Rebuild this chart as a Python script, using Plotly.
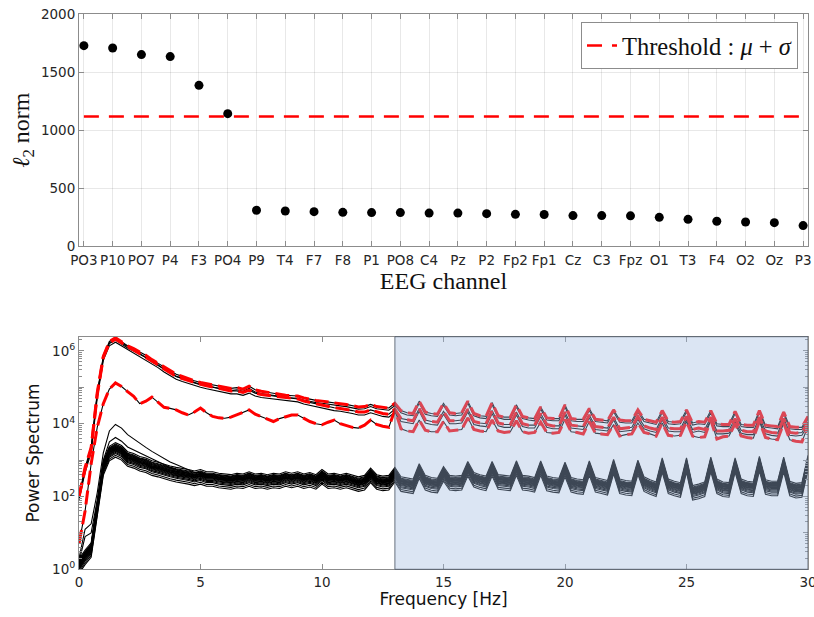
import numpy as np
import plotly.graph_objects as go

# ---------------- channel ranking (top panel) ----------------
channels = ["PO3", "P10", "PO7", "P4", "F3", "PO4", "P9", "T4", "F7", "F8", "P1",
            "PO8", "C4", "Pz", "P2", "Fp2", "Fp1", "Cz", "C3", "Fpz", "O1", "T3",
            "F4", "O2", "Oz", "P3"]
l2_norm = [1727, 1707, 1650, 1633, 1385, 1141, 308, 302, 296, 290, 288,
           288, 284, 284, 279, 273, 272, 262, 262, 260, 247, 230,
           213, 207, 201, 176]

# ---------------- power spectra (bottom panel), log10 power at 0.25 Hz steps ----------------
freq_step = 0.25
beta_band = (13, 30)

# upper edge of the high-power (flagged) group
top_hi_log = [
    2.00, 2.80, 3.35, 4.85,  5.85, 6.26, 6.36, 6.25,  6.14, 6.06, 5.97, 5.88,
    5.76, 5.66, 5.54, 5.44,  5.36, 5.30, 5.23, 5.18,  5.13, 5.10, 5.06, 5.02,
    4.99, 4.97, 4.99, 4.95,  5.03, 4.93, 4.89, 4.87,  4.85, 4.81, 4.78, 4.77,
    4.76, 4.71, 4.67, 4.64,  4.62, 4.59, 4.56, 4.55,  4.53, 4.49, 4.46, 4.47,
    4.53, 4.47, 4.44, 4.43,  4.56, 4.36, 4.30, 4.28,  4.62, 4.32, 4.28, 4.26,
    4.56, 4.30, 4.28, 4.30,  4.62, 4.28, 4.22, 4.20,  4.58, 4.22, 4.18, 4.18,
    4.52, 4.20, 4.16, 4.14,  4.46, 4.16, 4.14, 4.14,  4.52, 4.14, 4.12, 4.12,
    4.42, 4.12, 4.10, 4.08,  4.38, 4.10, 4.08, 4.08,  4.38, 4.12, 4.08, 4.04,
    4.36, 4.06, 4.04, 4.06,  4.38, 4.02, 4.06, 4.04,  4.36, 4.00, 3.98, 3.98,
    4.34, 3.98, 3.96, 3.96,  4.36, 3.96, 3.94, 3.92,  4.32, 3.92, 3.90, 3.90,
    4.20,
]
# lower edge of the high-power group
top_lo_log = [
    1.95, 2.70, 3.25, 4.75,  5.78, 6.18, 6.28, 6.18,  6.08, 5.98, 5.88, 5.80,
    5.68, 5.58, 5.46, 5.36,  5.26, 5.20, 5.14, 5.08,  5.04, 5.00, 4.96, 4.92,
    4.88, 4.86, 4.86, 4.82,  4.88, 4.80, 4.76, 4.74,  4.72, 4.68, 4.66, 4.64,
    4.64, 4.58, 4.54, 4.50,  4.46, 4.42, 4.40, 4.38,  4.36, 4.32, 4.28, 4.28,
    4.34, 4.28, 4.24, 4.22,  4.36, 4.10, 4.06, 4.04,  4.38, 4.06, 4.02, 4.00,
    4.30, 4.04, 4.04, 4.06,  4.36, 4.02, 3.98, 3.96,  4.32, 3.98, 3.94, 3.94,
    4.28, 3.96, 3.92, 3.92,  4.24, 3.94, 3.90, 3.90,  4.28, 3.92, 3.90, 3.88,
    4.20, 3.88, 3.86, 3.84,  4.14, 3.82, 3.84, 3.86,  4.16, 3.90, 3.84, 3.80,
    4.14, 3.84, 3.82, 3.82,  4.16, 3.80, 3.84, 3.80,  4.14, 3.76, 3.76, 3.78,
    4.10, 3.78, 3.74, 3.74,  4.14, 3.76, 3.72, 3.70,  4.10, 3.72, 3.70, 3.72,
    4.00,
]
# flagged channel with a lower alpha peak
mid_log = [
    0.70, 1.60, 2.90, 3.90,  4.55, 4.95, 5.12, 5.02,  4.88, 4.75, 4.55, 4.62,
    4.73, 4.58, 4.45, 4.42,  4.38, 4.30, 4.24, 4.32,  4.43, 4.30, 4.20, 4.16,
    4.15, 4.18, 4.24, 4.30,  4.38, 4.26, 4.20, 4.12,  4.06, 4.14, 4.20, 4.24,
    4.24, 4.14, 4.06, 4.00,  3.97, 4.04, 4.10, 4.00,  3.94, 3.90, 3.88, 3.96,
    4.10, 3.98, 3.93, 3.90,  4.38, 3.86, 3.80, 3.78,  4.10, 3.82, 3.78, 3.78,
    4.06, 3.80, 3.82, 3.84,  4.16, 3.84, 3.80, 3.78,  4.10, 3.80, 3.76, 3.78,
    4.08, 3.78, 3.74, 3.76,  4.04, 3.76, 3.74, 3.76,  4.12, 3.78, 3.76, 3.72,
    4.06, 3.74, 3.72, 3.70,  3.98, 3.66, 3.70, 3.72,  4.02, 3.76, 3.72, 3.66,
    4.02, 3.68, 3.66, 3.68,  4.06, 3.66, 3.62, 3.64,  4.10, 3.58, 3.64, 3.66,
    4.00, 3.66, 3.62, 3.60,  4.06, 3.62, 3.58, 3.56,  4.02, 3.56, 3.52, 3.50,
    3.94,
]
# typical spectrum of the low-power channels
bundle_log = [
    0.10, 0.35, 0.55, 1.70,  2.80, 3.20, 3.30, 3.22,  3.05, 3.00, 2.92, 2.88,
    2.80, 2.76, 2.70, 2.66,  2.62, 2.60, 2.56, 2.52,  2.56, 2.50, 2.50, 2.46,
    2.44, 2.42, 2.46, 2.44,  2.50, 2.44, 2.46, 2.42,  2.46, 2.44, 2.50, 2.46,
    2.50, 2.44, 2.48, 2.42,  2.56, 2.44, 2.46, 2.42,  2.46, 2.40, 2.36, 2.40,
    2.60, 2.42, 2.38, 2.40,  2.62, 2.36, 2.32, 2.30,  2.72, 2.40, 2.34, 2.32,
    2.64, 2.40, 2.38, 2.40,  2.78, 2.48, 2.42, 2.38,  2.78, 2.42, 2.40, 2.38,
    2.80, 2.40, 2.38, 2.34,  2.80, 2.38, 2.34, 2.32,  2.76, 2.34, 2.30, 2.28,
    2.80, 2.34, 2.30, 2.26,  2.84, 2.30, 2.26, 2.24,  2.82, 2.36, 2.28, 2.22,
    2.88, 2.30, 2.24, 2.20,  2.88, 2.12, 2.16, 2.22,  2.90, 2.30, 2.22, 2.20,
    2.88, 2.30, 2.24, 2.22,  2.92, 2.28, 2.24, 2.24,  2.90, 2.24, 2.18, 2.20,
    2.95,
]
bundle_offsets = [0.18, 0.14, 0.12, 0.10, 0.08, 0.07, 0.05, 0.04, 0.02,
                  0.01, 0.0, -0.02, -0.04, -0.06, -0.09, -0.12, -0.17, -0.22]
# two low-power channels with a stronger delta/alpha peak (0 - 12.75 Hz)
outlier1_low_log = [
    0.30, 1.10, 1.25, 2.10,  3.20, 3.80, 3.98, 3.88,  3.70, 3.58, 3.45, 3.35,
    3.24, 3.14, 3.05, 2.95,  2.88, 2.80, 2.72, 2.66,  2.66, 2.60, 2.58, 2.52,
    2.50, 2.46, 2.50, 2.48,  2.54, 2.48, 2.50, 2.46,  2.50, 2.48, 2.54, 2.50,
    2.54, 2.48, 2.52, 2.46,  2.60, 2.48, 2.50, 2.46,  2.50, 2.44, 2.40, 2.44,
    2.64, 2.46, 2.42, 2.44,
]
outlier2_low_log = [
    0.20, 0.90, 1.00, 1.90,  3.00, 3.50, 3.62, 3.52,  3.36, 3.28, 3.18, 3.10,
    3.02, 2.94, 2.86, 2.80,  2.74, 2.70, 2.64, 2.58,  2.62, 2.54, 2.54, 2.50,
    2.46, 2.44, 2.48, 2.46,  2.52, 2.46, 2.48, 2.44,  2.48, 2.46, 2.52, 2.48,
    2.52, 2.46, 2.50, 2.44,  2.58, 2.46, 2.48, 2.44,  2.48, 2.42, 2.38, 2.42,
    2.62, 2.44, 2.40, 2.42,
]
outlier_high_offsets = [0.10, 0.06]

freq = np.arange(len(bundle_log)) * freq_step

# ---------------- assemble curves ----------------
b = np.array(bundle_log)
low_curves = [b + o for o in bundle_offsets]
for lowpart, off in zip([outlier1_low_log, outlier2_low_log], outlier_high_offsets):
    n = len(lowpart)
    low_curves.append(np.concatenate([lowpart, b[n:] + off]))

hi = np.array(top_hi_log)
lo = np.array(top_lo_log)
flagged_curves = [hi, lo + 0.04, np.array(mid_log)]
other_high_curves = [hi - 0.06, lo - 0.04]

# ---------------- figure ----------------
TICK_FONT = dict(family="DejaVu Sans, sans-serif", size=13.5, color="#262626")
SERIF = "Liberation Serif, DejaVu Serif, serif"
FRAME = "#8c8c8c"
X_DOM = [79 / 814, 808 / 814]

fig = go.Figure()

idx = list(range(len(channels)))
fig.add_trace(go.Scatter(
    x=idx, y=l2_norm, mode="markers", xaxis="x", yaxis="y",
    marker=dict(color="black", size=9), showlegend=False, hoverinfo="x+y"))

threshold = float(np.mean(l2_norm) + np.std(l2_norm, ddof=1))
fig.add_trace(go.Scatter(
    x=[idx[0], idx[-1]], y=[threshold, threshold], mode="lines",
    xaxis="x", yaxis="y",
    line=dict(color="#ff0000", width=2.6, dash="15px,10px"),
    name="Threshold : <i>μ</i> + <i>σ</i>", showlegend=True))

for c in low_curves + other_high_curves + flagged_curves:
    fig.add_trace(go.Scatter(
        x=freq, y=10 ** c, mode="lines", xaxis="x2", yaxis="y2",
        line=dict(color="black", width=1.1), showlegend=False))
for c in flagged_curves:
    fig.add_trace(go.Scatter(
        x=freq, y=10 ** c, mode="lines", xaxis="x2", yaxis="y2",
        line=dict(color="#ff0000", width=3, dash="14px,6px"), showlegend=False))

# beta band highlight (translucent, drawn over the traces)
fig.add_shape(type="rect", xref="x2", yref="y2 domain",
              x0=beta_band[0], x1=beta_band[1], y0=0, y1=1,
              fillcolor="rgba(160,186,224,0.38)",
              line=dict(color="rgba(80,90,105,0.85)", width=1), layer="above")

axis_common = dict(
    showline=True, linecolor=FRAME, linewidth=1, mirror="ticks",
    ticks="inside", ticklen=5, tickcolor=FRAME, tickfont=TICK_FONT,
    zeroline=False, automargin=False, tickangle=0, ticklabeloverflow="allow",
)

decades = list(range(0, 7))
minor_vals = [k * 10 ** d for d in decades for k in range(2, 10)]

fig.update_layout(
    width=814, height=617,
    margin=dict(l=0, r=0, t=0, b=0, autoexpand=False),
    paper_bgcolor="white", plot_bgcolor="white",
    showlegend=True,
    legend=dict(
        x=798 / 814, xanchor="right", y=1 - 22 / 617, yanchor="top",
        bgcolor="white", bordercolor=FRAME, borderwidth=1,
        font=dict(family=SERIF, size=24.5, color="#111111"),
        itemwidth=30,
    ),
    xaxis=dict(
        domain=X_DOM, anchor="y", range=[-0.17, len(channels) - 1 + 0.17],
        tickmode="array", tickvals=idx, ticktext=channels,
        showgrid=True, gridcolor="rgba(0,0,0,0.09)", ticklabelstandoff=2,
        title=dict(text="EEG channel", font=dict(family=SERIF, size=24, color="#111111"),
                   standoff=2),
        **axis_common),
    yaxis=dict(
        domain=[1 - 246 / 617, 1 - 14 / 617], anchor="x", range=[0, 2000],
        tickmode="linear", tick0=0, dtick=500,
        showgrid=True, gridcolor="rgba(0,0,0,0.09)",
        title=dict(text="<i>ℓ</i><sub>2</sub> norm",
                   font=dict(family=SERIF, size=24, color="#111111"), standoff=4),
        **axis_common),
    xaxis2=dict(
        domain=X_DOM, anchor="y2", range=[0, 30],
        tickmode="linear", tick0=0, dtick=5, showgrid=False,
        title=dict(text="Frequency [Hz]",
                   font=dict(family="DejaVu Sans, sans-serif", size=17, color="#111111"),
                   standoff=4),
        **axis_common),
    yaxis2=dict(
        domain=[1 - 569.3 / 617, 1 - 336.7 / 617], anchor="x2", type="log",
        range=[0, 6.39],
        tickmode="array", tickvals=[10 ** d for d in decades],
        ticktext=["10<sup>%d</sup>" % d if d % 2 == 0 else "" for d in decades],
        showgrid=False,
        minor=dict(tickmode="array", tickvals=minor_vals, ticks="inside",
                   ticklen=3, tickcolor=FRAME, showgrid=False),
        title=dict(text="Power Spectrum",
                   font=dict(family="DejaVu Sans, sans-serif", size=17, color="#111111"),
                   standoff=8),
        **axis_common),
)

fig.write_html("out.html")
